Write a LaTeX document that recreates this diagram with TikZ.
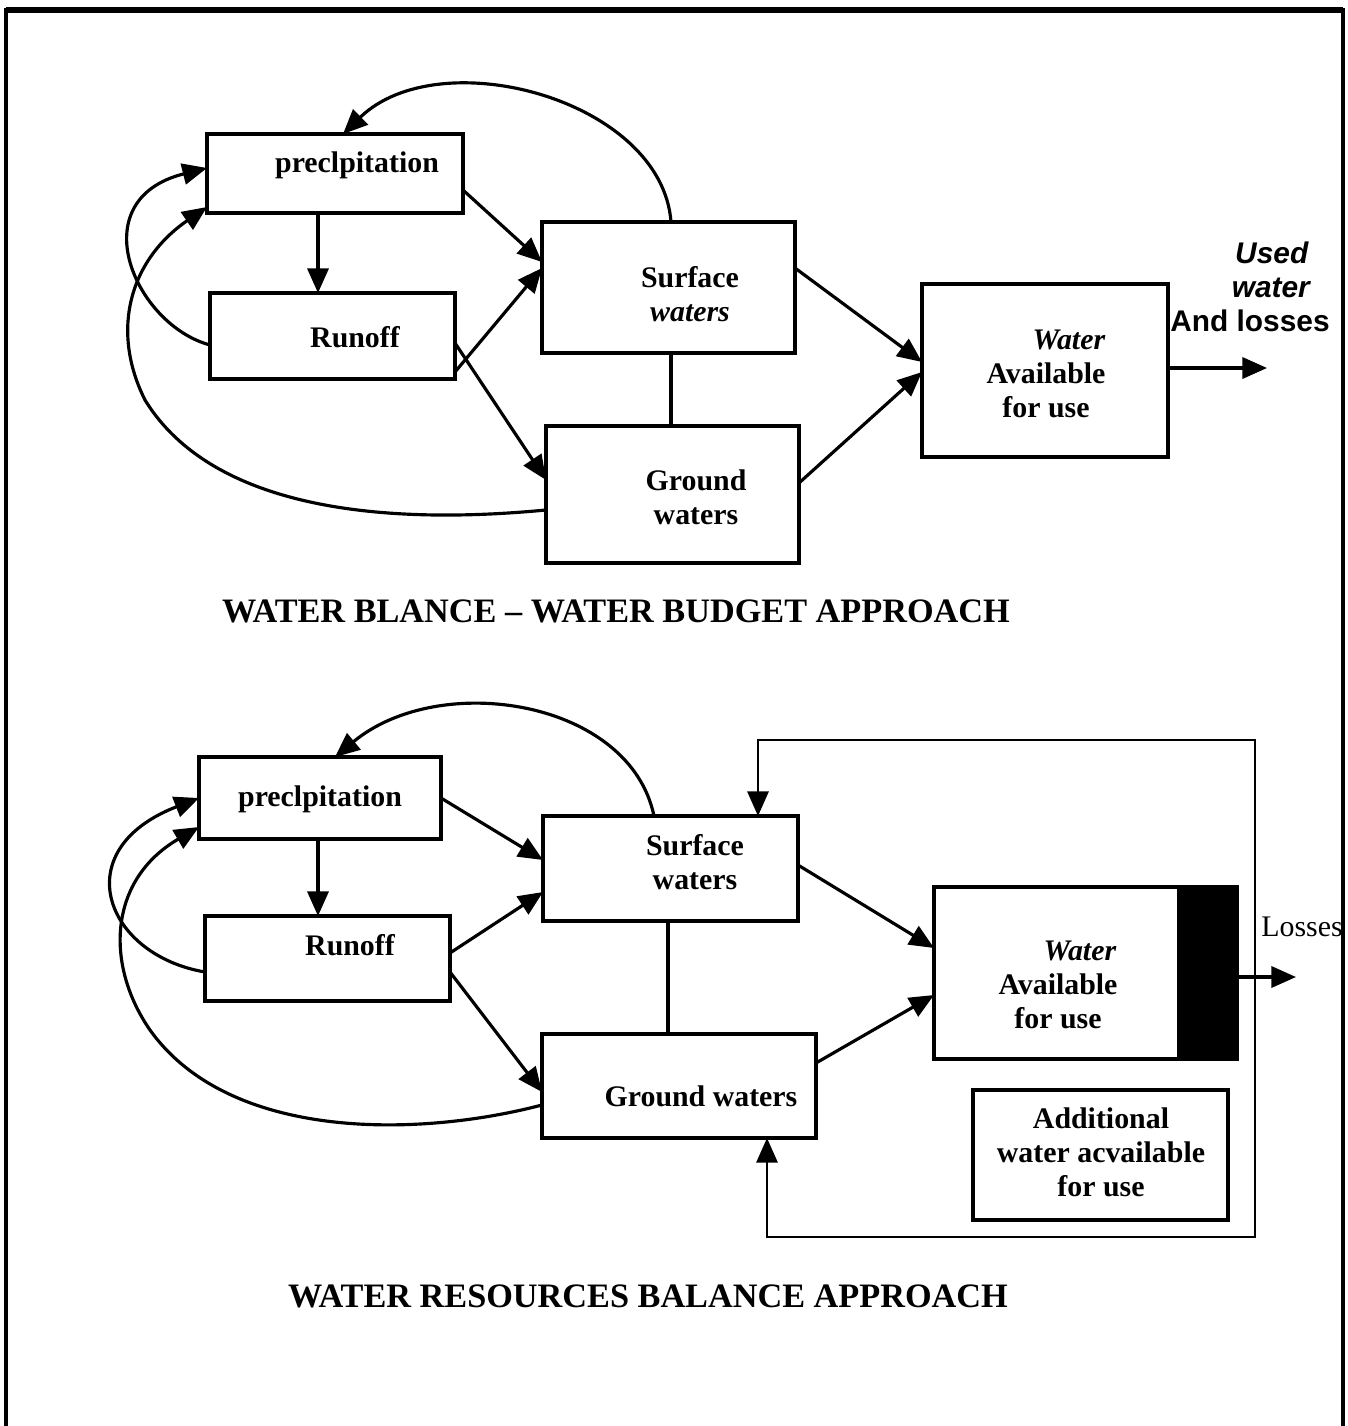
\documentclass[tikz,border=0pt]{standalone}
\usepackage{fontspec}
\setmainfont{Liberation Serif}
\setsansfont{Liberation Sans}
\usetikzlibrary{arrows.meta}
\tikzstyle{box}=[rectangle,draw,line width=2pt,inner sep=0,outer sep=0]
\tikzstyle{lbl}=[font=\bfseries\fontsize{17}{19.4}\selectfont,align=center,inner sep=0]
\tikzstyle{arrow}=[line width=1.8pt,-{Triangle[length=14pt,width=12pt]}]
\tikzstyle{link}=[line width=1.8pt]
\tikzstyle{heading}=[font=\bfseries\fontsize{19.5}{22}\selectfont,inner sep=0]

\begin{document}
\begin{tikzpicture}[x=0.02cm,y=-0.02cm]
\useasboundingbox (0,0) rectangle (1348,1426);
\draw[line width=2.4pt] (6,1426) -- (6,10) -- (1343,10) -- (1343,1426);
\draw[line width=3.6pt] (6,10) -- (1343,10);

% water budget approach
\node[box,minimum width=5.12cm,minimum height=1.58cm] (precA) at (335,173.5) {};
\node[box,minimum width=4.9cm,minimum height=1.72cm] (runoffA) at (332.5,336) {};
\node[box,minimum width=5.06cm,minimum height=2.62cm] (surfA) at (668.5,287.5) {};
\node[box,minimum width=5.06cm,minimum height=2.74cm] (groundA) at (672.5,494.5) {};
\node[box,minimum width=4.92cm,minimum height=3.46cm] (availA) at (1045,370.5) {};
\node[lbl] (precAtxt) at (357,165) {preclpitation};
\node[lbl] (runoffAtxt) at (355,337) {Runoff};
\node[lbl] (surfAtxt) at (690,294) {Surface\\\textit{waters}};
\node[lbl] (groundAtxt) at (696,497) {Ground\\waters};
\node[lbl] (availAtxt) at (1046,374) {\hspace*{0.92cm}\textit{Water}\\Available\\for use};
\node[lbl,font=\sffamily\bfseries\fontsize{17}{19.4}\selectfont] (usedTxt) at (1250,287)
  {\hspace*{0.88cm}\textit{Used}\\\hspace*{0.86cm}\textit{water}\\And losses};
\coordinate (usedEnd) at (1267,368);

\draw[arrow] (precA.south -| 318,0) -- (runoffA.north -| 318,0);
\draw[arrow] (precA.east |- 0,190) -- (surfA.west |- 0,262);
\draw[arrow] (runoffA.east |- 0,372) -- (surfA.west |- 0,268);
\draw[arrow] (runoffA.east |- 0,343) -- (groundA.west |- 0,480);
\draw[link] (surfA.south -| 671,0) -- (groundA.north -| 671,0);
\draw[arrow] (surfA.east |- 0,268) -- (availA.west |- 0,362);
\draw[arrow] (groundA.east |- 0,483) -- (availA.west |- 0,372);
\draw[arrow] (availA.east |- 0,368) -- (usedEnd);
\draw[arrow] (surfA.north -| 671,0) .. controls (662,100) and (440,40) .. (precA.north -| 343,0);
\draw[arrow] (runoffA.west |- 0,345) .. controls (135,325) and (80,200) .. (precA.west |- 0,168);
\draw[arrow] (groundA.west |- 0,510) .. controls (420,522) and (220,522) .. (145,400)
  .. controls (110,330) and (130,260) .. (precA.west |- 0,207);

\node[heading] (titleA) at (616,611) {WATER BLANCE -- WATER BUDGET APPROACH};

% water resources balance approach
\node[box,minimum width=4.84cm,minimum height=1.64cm] (precB) at (320,798) {};
\node[box,minimum width=4.9cm,minimum height=1.7cm] (runoffB) at (327.5,958.5) {};
\node[box,minimum width=5.1cm,minimum height=2.1cm] (surfB) at (670.5,868.5) {};
\node[box,minimum width=5.48cm,minimum height=2.08cm] (groundB) at (679,1086) {};
\node[box,minimum width=6.06cm,minimum height=3.44cm] (availB) at (1085.5,973) {};
\fill (availB.north east) rectangle (availB.south -| 1177,0);
\node[box,minimum width=5.1cm,minimum height=2.6cm] (addB) at (1100.5,1155) {};
\node[lbl] (precBtxt) at (320,799) {preclpitation};
\node[lbl] (runoffBtxt) at (350,945) {Runoff};
\node[lbl] (surfBtxt) at (695,862) {Surface\\waters};
\node[lbl] (groundBtxt) at (701,1096) {Ground waters};
\node[lbl] (availBtxt) at (1058,985) {\hspace*{0.88cm}\textit{Water}\\Available\\for use};
\node[lbl] (addBtxt) at (1101,1152) {Additional\\water acvailable\\for use};
\node[lbl,font=\fontsize{17}{19.4}\selectfont] (lossTxt) at (1302,927) {Losses};
\coordinate (lossEnd) at (1296,977);
\coordinate (loopTL) at (758,740);
\coordinate (loopTR) at (1255,740);
\coordinate (loopBR) at (1255,1237);
\coordinate (loopBL) at (767,1237);

\draw[arrow] (precB.south -| 318,0) -- (runoffB.north -| 318,0);
\draw[arrow] (precB.east |- 0,798) -- (surfB.west |- 0,860);
\draw[arrow] (runoffB.east |- 0,953) -- (surfB.west |- 0,892);
\draw[arrow] (runoffB.east |- 0,972) -- (groundB.west |- 0,1092);
\draw[link] (surfB.south -| 668,0) -- (groundB.north -| 668,0);
\draw[arrow] (surfB.east |- 0,865) -- (availB.west |- 0,948);
\draw[arrow] (groundB.east |- 0,1063) -- (availB.west |- 0,995);
\draw[arrow] (availB.east |- 0,977) -- (lossEnd);
\draw[arrow] (surfB.north -| 654,0) .. controls (630,700) and (440,670) .. (precB.north -| 335,0);
\draw[arrow] (runoffB.west |- 0,972) .. controls (105,955) and (65,850) .. (precB.west |- 0,798);
\draw[arrow] (groundB.west |- 0,1105) .. controls (420,1137) and (230,1142) .. (150,1030)
  .. controls (105,965) and (108,880) .. (precB.west |- 0,827);
\draw[line width=1.5pt,{Triangle[length=14pt,width=12pt]}-{Triangle[length=14pt,width=12pt]}]
  (loopTL |- surfB.north) -- (loopTL) -- (loopTR) -- (loopBR) -- (loopBL) -- (loopBL |- groundB.south);

\node[heading] (titleB) at (648,1296) {WATER RESOURCES BALANCE APPROACH};
\end{tikzpicture}
\end{document}
